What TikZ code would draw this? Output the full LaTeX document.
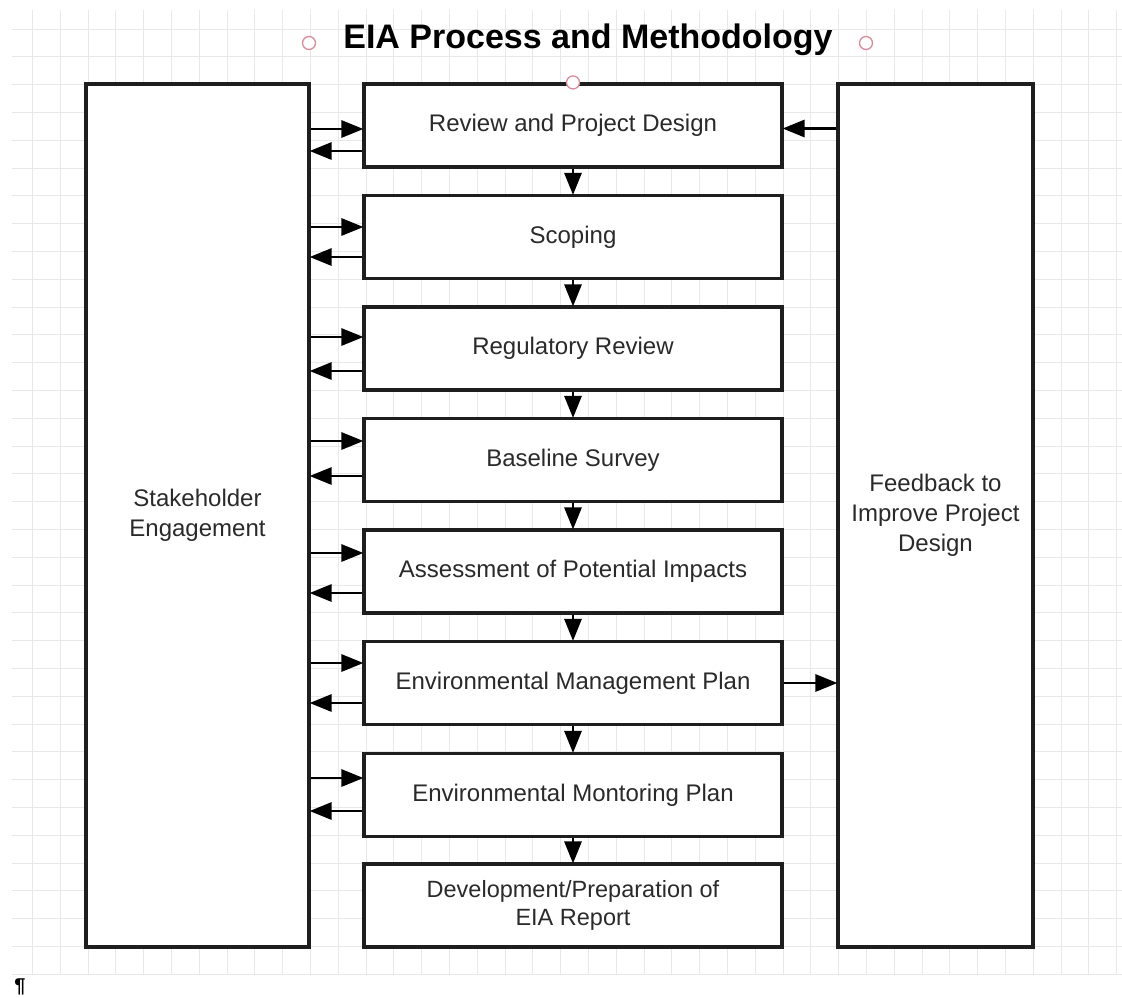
\documentclass[tikz,border=0pt]{standalone}
\usepackage{fontspec}
\setmainfont{Liberation Sans}
\usetikzlibrary{arrows.meta}
\definecolor{gridc}{HTML}{E8E8E8}
\definecolor{linec}{HTML}{1E1E1E}
\definecolor{txtc}{HTML}{2A2A2A}
\definecolor{handle}{HTML}{D98C9C}
\tikzset{
  boxstyle/.style={draw=linec, line width=3.1pt, fill=white, text=txtc, align=center, inner sep=0pt, font=\fontsize{24}{30}\selectfont},
  stepbox/.style={boxstyle, minimum width=418pt, minimum height=83pt},
  arr/.style={draw=black, line width=2.8pt, -{Triangle[length=22pt,width=17pt]}, shorten >=-1pt},
  handlec/.style={draw=handle, line width=1.3pt, fill=white, circle, minimum size=13pt, inner sep=0pt}
}
\begin{document}
\begin{tikzpicture}[x=1pt,y=-1pt]
\useasboundingbox (0,0) rectangle (1122,997);
\fill[white] (0,0) rectangle (1122,997);
% grid
\foreach \i in {1,...,40} {
  \draw[gridc, line width=0.8pt] ({4.5+27.8*\i},10) -- ({4.5+27.8*\i},975);
}
\foreach \j in {0,...,34} {
  \draw[gridc, line width=0.8pt] (12,{29+27.8*\j}) -- (1122,{29+27.8*\j});
}
% title
\node[font=\bfseries\fontsize{34}{40}\selectfont, text=black] (title) at (588,40) {EIA Process and Methodology};
\node[handlec] (h1) at (309,43) {};
\node[handlec] (h2) at (866,43) {};
% side boxes
\node[boxstyle, minimum width=223pt, minimum height=863pt] (SE) at (197.5,515.5) {Stakeholder\\Engagement};
\node[boxstyle, minimum width=195pt, minimum height=863pt] (FB) at (935.5,515.5) {Feedback to\\Improve Project\\Design};
% central steps
\node[stepbox] (b1) at (573,125.5) {Review and Project Design};
\node[stepbox] (b2) at (573,237) {Scoping};
\node[stepbox] (b3) at (573,348.5) {Regulatory Review};
\node[stepbox] (b4) at (573,460) {Baseline Survey};
\node[stepbox] (b5) at (573,571.5) {Assessment of Potential Impacts};
\node[stepbox] (b6) at (573,683) {Environmental Management Plan};
\node[stepbox] (b7) at (573,795) {Environmental Montoring Plan};
\node[stepbox, font=\fontsize{23.5}{28}\selectfont] (b8) at (573,905.5) {Development/Preparation of\\EIA Report};
\node[handlec] (h3) at (b1.north) {};
% vertical flow
\foreach \a/\b in {b1/b2,b2/b3,b3/b4,b4/b5,b5/b6,b6/b7,b7/b8} {
  \draw[arr] (\a.south) -- (\b.north);
}
% stakeholder arrows: box/forward-offset/back-offset (offset from box centre, downwards positive)
\foreach \b/\f/\k in {b1/3.5/25.5, b2/-10/20, b3/-11.5/22.5, b4/-19/16, b5/-18.5/21.5, b6/-20/20, b7/-17/16} {
  \coordinate (fa) at ([yshift=-\f pt]\b.west);
  \coordinate (ka) at ([yshift=-\k pt]\b.west);
  \draw[arr] (SE.east |- fa) -- (fa);
  \draw[arr] (ka) -- (SE.east |- ka);
}
% feedback arrows
\coordinate (r1) at ([yshift=-3pt]b1.east);
\draw[arr] (FB.west |- r1) -- (r1);
\coordinate (r6) at (b6.east);
\draw[arr] (r6) -- (FB.west |- r6);
% pilcrow
\node[font=\bfseries\fontsize{20}{20}\selectfont, text=black] (pil) at (20,987) {¶};
\end{tikzpicture}
\end{document}
